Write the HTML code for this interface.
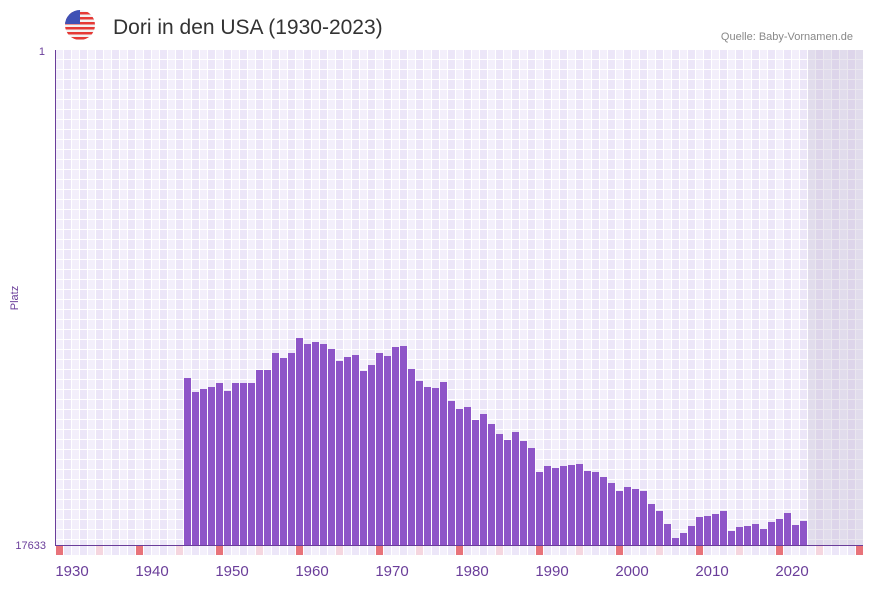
<!DOCTYPE html>
<html><head><meta charset="utf-8"><style>
body{margin:0;background:#fff;width:873px;height:587px;overflow:hidden;font-family:"Liberation Sans","DejaVu Sans",sans-serif}
</style></head><body>
<svg width="873" height="587" xmlns="http://www.w3.org/2000/svg">
<defs>
<pattern id="g" x="56" y="50" width="16" height="10" patternUnits="userSpaceOnUse">
<rect width="16" height="10" fill="#fff"/>
<rect x="0" y="0" width="7" height="9" fill="#f3effb"/>
<rect x="8" y="0" width="7" height="9" fill="#ece6f8"/>
</pattern>
<pattern id="b" x="56" y="546" width="16" height="10" patternUnits="userSpaceOnUse">
<rect width="16" height="10" fill="#fff"/>
<rect x="0" y="0" width="7" height="10" fill="#f3effb"/>
<rect x="8" y="0" width="7" height="10" fill="#ece6f8"/>
</pattern>
<clipPath id="c"><circle cx="80" cy="25" r="15"/></clipPath>
</defs>
<g clip-path="url(#c)">
<rect x="65" y="10" width="30" height="30" fill="#f2f2f2"/>
<rect x="65" y="12" width="30" height="2.5" fill="#e53935"/>
<rect x="65" y="17" width="30" height="2.5" fill="#e53935"/>
<rect x="65" y="22" width="30" height="2.5" fill="#e53935"/>
<rect x="65" y="27" width="30" height="2.5" fill="#e53935"/>
<rect x="65" y="32" width="30" height="2.5" fill="#e53935"/>
<rect x="65" y="37" width="30" height="2.5" fill="#e53935"/>
<rect x="65" y="10" width="15" height="14" fill="#3f51b5"/>
</g>
<text x="113" y="34" font-size="21" fill="#333">Dori in den USA (1930-2023)</text>
<text x="853" y="40" font-size="11" fill="#888" text-anchor="end">Quelle: Baby-Vornamen.de</text>
<rect x="56" y="50" width="807" height="495" fill="url(#g)"/>
<rect x="808" y="50" width="55" height="495" fill="#b8aecb" opacity="0.3"/>
<rect x="56" y="546" width="807" height="9" fill="url(#b)"/>
<g fill="#e8737a">
<rect x="56" y="546" width="7" height="9"/><rect x="136" y="546" width="7" height="9"/><rect x="216" y="546" width="7" height="9"/><rect x="296" y="546" width="7" height="9"/><rect x="376" y="546" width="7" height="9"/><rect x="456" y="546" width="7" height="9"/><rect x="536" y="546" width="7" height="9"/><rect x="616" y="546" width="7" height="9"/><rect x="696" y="546" width="7" height="9"/><rect x="776" y="546" width="7" height="9"/><rect x="856" y="546" width="7" height="9"/>
</g>
<g fill="#f5d6df">
<rect x="96" y="546" width="7" height="9"/><rect x="176" y="546" width="7" height="9"/><rect x="256" y="546" width="7" height="9"/><rect x="336" y="546" width="7" height="9"/><rect x="416" y="546" width="7" height="9"/><rect x="496" y="546" width="7" height="9"/><rect x="576" y="546" width="7" height="9"/><rect x="656" y="546" width="7" height="9"/><rect x="736" y="546" width="7" height="9"/><rect x="816" y="546" width="7" height="9"/>
</g>
<g fill="#8e55c8">
<rect x="184" y="378" width="7" height="167"/>
<rect x="192" y="392" width="7" height="153"/>
<rect x="200" y="389" width="7" height="156"/>
<rect x="208" y="387" width="7" height="158"/>
<rect x="216" y="383" width="7" height="162"/>
<rect x="224" y="391" width="7" height="154"/>
<rect x="232" y="383" width="7" height="162"/>
<rect x="240" y="383" width="7" height="162"/>
<rect x="248" y="383" width="7" height="162"/>
<rect x="256" y="370" width="7" height="175"/>
<rect x="264" y="370" width="7" height="175"/>
<rect x="272" y="353" width="7" height="192"/>
<rect x="280" y="358" width="7" height="187"/>
<rect x="288" y="353" width="7" height="192"/>
<rect x="296" y="338" width="7" height="207"/>
<rect x="304" y="344" width="7" height="201"/>
<rect x="312" y="342" width="7" height="203"/>
<rect x="320" y="344" width="7" height="201"/>
<rect x="328" y="349" width="7" height="196"/>
<rect x="336" y="361" width="7" height="184"/>
<rect x="344" y="357" width="7" height="188"/>
<rect x="352" y="355" width="7" height="190"/>
<rect x="360" y="371" width="7" height="174"/>
<rect x="368" y="365" width="7" height="180"/>
<rect x="376" y="353" width="7" height="192"/>
<rect x="384" y="356" width="7" height="189"/>
<rect x="392" y="347" width="7" height="198"/>
<rect x="400" y="346" width="7" height="199"/>
<rect x="408" y="369" width="7" height="176"/>
<rect x="416" y="381" width="7" height="164"/>
<rect x="424" y="387" width="7" height="158"/>
<rect x="432" y="388" width="7" height="157"/>
<rect x="440" y="382" width="7" height="163"/>
<rect x="448" y="401" width="7" height="144"/>
<rect x="456" y="409" width="7" height="136"/>
<rect x="464" y="407" width="7" height="138"/>
<rect x="472" y="420" width="7" height="125"/>
<rect x="480" y="414" width="7" height="131"/>
<rect x="488" y="424" width="7" height="121"/>
<rect x="496" y="434" width="7" height="111"/>
<rect x="504" y="440" width="7" height="105"/>
<rect x="512" y="432" width="7" height="113"/>
<rect x="520" y="441" width="7" height="104"/>
<rect x="528" y="448" width="7" height="97"/>
<rect x="536" y="472" width="7" height="73"/>
<rect x="544" y="466" width="7" height="79"/>
<rect x="552" y="468" width="7" height="77"/>
<rect x="560" y="466" width="7" height="79"/>
<rect x="568" y="465" width="7" height="80"/>
<rect x="576" y="464" width="7" height="81"/>
<rect x="584" y="471" width="7" height="74"/>
<rect x="592" y="472" width="7" height="73"/>
<rect x="600" y="477" width="7" height="68"/>
<rect x="608" y="483" width="7" height="62"/>
<rect x="616" y="491" width="7" height="54"/>
<rect x="624" y="487" width="7" height="58"/>
<rect x="632" y="489" width="7" height="56"/>
<rect x="640" y="491" width="7" height="54"/>
<rect x="648" y="504" width="7" height="41"/>
<rect x="656" y="511" width="7" height="34"/>
<rect x="664" y="524" width="7" height="21"/>
<rect x="672" y="538" width="7" height="7"/>
<rect x="680" y="533" width="7" height="12"/>
<rect x="688" y="526" width="7" height="19"/>
<rect x="696" y="517" width="7" height="28"/>
<rect x="704" y="516" width="7" height="29"/>
<rect x="712" y="514" width="7" height="31"/>
<rect x="720" y="511" width="7" height="34"/>
<rect x="728" y="531" width="7" height="14"/>
<rect x="736" y="527" width="7" height="18"/>
<rect x="744" y="526" width="7" height="19"/>
<rect x="752" y="524" width="7" height="21"/>
<rect x="760" y="529" width="7" height="16"/>
<rect x="768" y="522" width="7" height="23"/>
<rect x="776" y="519" width="7" height="26"/>
<rect x="784" y="513" width="7" height="32"/>
<rect x="792" y="525" width="7" height="20"/>
<rect x="800" y="521" width="7" height="24"/>
</g>
<rect x="55" y="50" width="1" height="496" fill="#6a3d9a"/>
<rect x="55" y="545" width="808" height="1" fill="#6a3d9a"/>
<g fill="#6a3d9a" font-size="11">
<text x="45" y="55" text-anchor="end">1</text>
<text x="46" y="549" text-anchor="end">17633</text>
<text transform="translate(18,298) rotate(-90)" text-anchor="middle">Platz</text>
</g>
<g fill="#6a3d9a" font-size="15" text-anchor="middle">
<text x="72" y="576">1930</text><text x="152" y="576">1940</text><text x="232" y="576">1950</text><text x="312" y="576">1960</text><text x="392" y="576">1970</text><text x="472" y="576">1980</text><text x="552" y="576">1990</text><text x="632" y="576">2000</text><text x="712" y="576">2010</text><text x="792" y="576">2020</text>
</g>
</svg>
</body></html>
